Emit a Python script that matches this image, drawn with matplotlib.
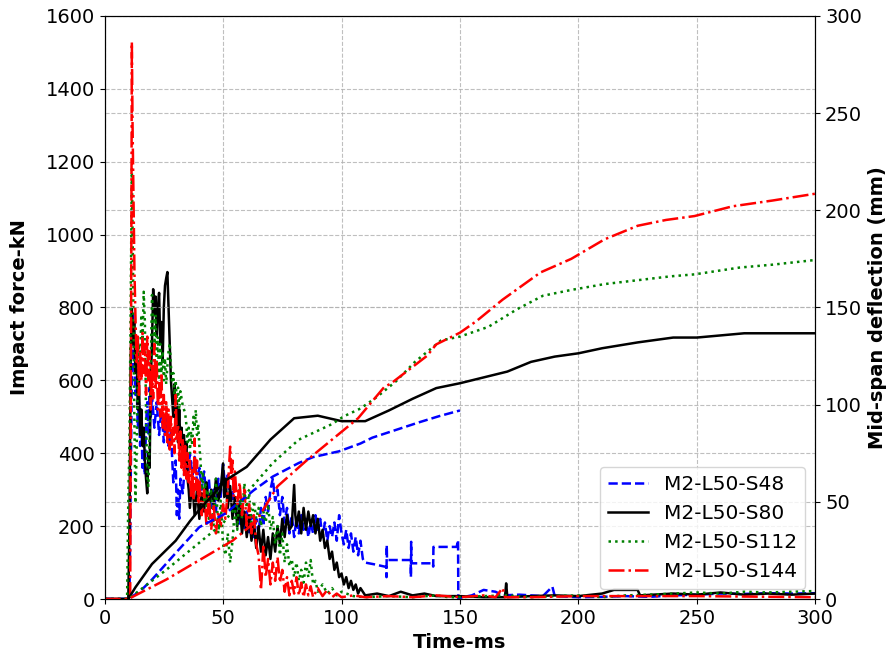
import matplotlib
matplotlib.use("Agg")
import matplotlib.pyplot as plt

# impact force (kN) vs time (ms)
t_s48 = [0, 10.5, 11, 11.5, 12, 12.5, 13, 13.5, 14, 14.5, 15, 15.5, 16, 16.5, 17, 17.5, 18, 18.5, 19, 19.5,
         20, 21, 22, 23, 24, 25, 26, 27, 28, 29, 30, 30.5, 31, 31.5, 32, 33, 34, 35, 36, 37, 38, 39,
         40, 41, 42, 43, 44, 45, 46, 47, 48, 49, 50, 51, 52, 53, 54, 55, 56, 57, 58, 59,
         60, 61, 62, 63, 64, 65, 66, 67, 68, 69, 70, 71, 72, 73, 74, 75, 76, 77, 78, 79,
         80, 81, 82, 83, 84, 85, 86, 87, 88, 89, 90, 91, 92, 93, 94, 95, 96, 97, 98, 99,
         100, 101, 102, 103, 104, 105, 106, 107, 108, 109, 110, 114, 118.9, 119, 119.1, 119.2,
         129.2, 129.3, 129.4, 129.5, 138.6, 138.7, 138.8, 148.6, 149.2, 149.3, 151, 155, 160, 165, 168,
         175, 185, 189, 190, 200, 210, 220, 230, 240, 250, 260, 270, 280, 290, 300]
f_s48 = [0, 0, 300, 620, 780, 650, 560, 600, 470, 540, 420, 500, 360, 430, 340, 480, 540, 450, 580, 500,
         560, 470, 540, 450, 520, 430, 500, 420, 460, 320, 380, 230, 300, 220, 330, 290, 380, 330, 400, 340, 390, 320,
         360, 300, 350, 280, 330, 250, 300, 240, 330, 280, 370, 300, 340, 260, 300, 230, 270, 200, 250, 190,
         240, 180, 230, 170, 220, 180, 250, 200, 280, 240, 300, 330, 270, 300, 230, 280, 210, 250, 180, 230,
         170, 220, 180, 230, 190, 220, 170, 210, 180, 230, 190, 220, 170, 210, 160, 200, 170, 210, 160, 230,
         180, 150, 190, 140, 180, 130, 170, 120, 160, 110, 100, 95, 88, 60, 148, 107,
         107, 60, 157, 98, 98, 89, 143, 143, 162, 0, 5, 10, 25, 20, 10,
         12, 8, 34, 8, 5, 6, 8, 6, 10, 12, 15, 14, 16, 15, 16]

t_s80 = [0, 10, 10.5, 11, 11.5, 12, 12.5, 13, 13.5, 14, 14.5, 15, 15.5, 16, 16.5, 17, 17.5, 18, 18.5, 19, 19.5,
         20, 20.5, 21, 21.5, 22, 22.5, 23, 23.5, 24, 24.5, 25, 25.5, 26, 26.5, 27, 27.5, 28, 28.5, 29, 29.5,
         30, 30.5, 31, 31.5, 32, 32.5, 33, 33.5, 34, 34.5, 35, 35.5, 36, 37, 38, 39,
         40, 41, 42, 43, 44, 45, 46, 47, 48, 49, 50, 50.5, 51, 52, 53, 54, 55, 56, 57, 58, 59,
         60, 61, 62, 63, 64, 65, 66, 67, 68, 69, 70, 71, 72, 73, 74, 75, 76, 77, 78, 79,
         80, 80.5, 81, 82, 83, 84, 85, 86, 87, 88, 89, 90, 91, 92, 93, 94, 95, 96, 97, 98, 99,
         100, 101, 102, 103, 104, 105, 106, 107, 108, 110, 115, 120, 125, 130, 135, 140, 150, 160,
         169, 169.5, 170, 180, 190, 200, 210, 215, 225, 226, 240, 250, 260, 270, 280, 290, 300]
f_s80 = [0, 0, 200, 650, 800, 700, 760, 620, 690, 520, 600, 450, 520, 420, 470, 380, 330, 290, 400, 360, 600,
         700, 850, 780, 830, 720, 800, 840, 700, 760, 650, 800, 860, 880, 897, 800, 700, 600, 550, 500, 590,
         480, 540, 430, 520, 420, 470, 400, 450, 380, 430, 330, 300, 250, 320, 230, 300,
         220, 290, 240, 320, 250, 300, 260, 330, 270, 300, 372, 280, 330, 250, 310, 220, 280, 200, 260, 180, 240,
         170, 230, 160, 210, 140, 200, 130, 190, 120, 170, 110, 180, 130, 200, 150, 220, 170, 230, 190, 200,
         313, 230, 200, 240, 180, 250, 190, 240, 200, 230, 180, 220, 160, 190, 140, 160, 110, 130, 80, 100, 60,
         70, 40, 60, 30, 50, 25, 40, 15, 30, 10, 15, 8, 20, 10, 15, 8, 8, 5,
         5, 43, 5, 8, 10, 8, 15, 25, 25, 10, 15, 12, 18, 12, 15, 12, 15]

t_s112 = [0, 9.5, 10, 10.5, 11, 11.5, 12, 12.5, 13, 13.5, 14, 14.5, 15, 15.5, 16, 16.5, 17, 17.5, 18, 18.5, 19, 19.5,
          20, 20.5, 21, 21.5, 22, 22.5, 23, 23.5, 24, 24.5, 25, 25.5, 26, 26.5, 27, 27.5, 28, 28.5, 29, 29.5,
          30, 30.5, 31, 31.5, 32, 33, 34, 34.5, 35, 35.5, 36, 36.5, 37, 37.5, 38, 38.5, 39, 39.5,
          40, 40.5, 41, 41.5, 42, 42.5, 43, 43.5, 44, 45, 46, 47, 48, 49, 50, 51, 52, 53, 54, 55, 56, 57, 58, 59,
          60, 61, 62, 63, 64, 65, 66, 67, 68, 69, 70, 71, 72, 73, 74, 75, 76, 77, 78, 79,
          80, 81, 82, 83, 84, 85, 86, 87, 88, 89, 90, 92, 94, 96, 98, 100, 105, 110, 120, 130, 140, 145,
          150, 160, 170, 180, 190, 200, 210, 220, 230, 240, 250, 260, 270, 280, 290, 300]
f_s112 = [0, 0, 270, 430, 800, 1180, 900, 527, 263, 400, 600, 700, 650, 780, 700, 843, 760, 500, 330, 310, 450, 650,
          834, 760, 700, 780, 650, 720, 600, 700, 620, 680, 600, 660, 590, 640, 680, 702, 640, 592, 620, 560,
          600, 540, 580, 520, 570, 530, 510, 480, 430, 470, 400, 460, 420, 500, 470, 519, 450, 480,
          420, 380, 300, 350, 260, 320, 230, 300, 220, 300, 200, 330, 180, 270, 150, 120, 180, 100, 160, 250, 190, 300, 220, 318,
          250, 290, 210, 270, 220, 250, 200, 240, 210, 260, 190, 225, 150, 200, 120, 180, 100, 150, 90, 110,
          60, 100, 50, 80, 45, 100, 60, 107, 40, 50, 20, 40, 15, 30, 10, 20, 8, 5, 8, 5, 10, 5,
          5, 8, 10, 5, 8, 10, 5, 10, 12, 15, 18, 15, 20, 18, 20, 22]

t_s144 = [0, 10.8, 11, 11.3, 11.5, 11.8, 12, 12.3, 12.6, 13, 13.5, 14, 14.5, 15, 15.5, 16, 16.5, 17, 17.5, 18, 18.5, 19, 19.5,
          20, 20.5, 21, 21.5, 22, 22.5, 23, 23.5, 24, 24.5, 25, 25.5, 26, 26.5, 27, 27.5, 28, 28.5, 29, 29.5,
          30, 30.5, 31, 31.5, 32, 32.5, 33, 33.5, 34, 34.5, 35, 35.5, 36, 36.5, 37, 37.5, 38, 38.5, 39, 39.5,
          40, 41, 42, 43, 44, 45, 46, 47, 48, 49, 50, 51, 52, 53, 53.5, 54, 54.5, 55, 56, 57, 58, 59,
          60, 61, 62, 63, 64, 65, 66, 66.5, 67, 68, 69, 70, 71, 72, 73, 74, 75, 76, 77, 78, 79,
          80, 81, 82, 83, 84, 85, 86, 87, 88, 90, 92, 94, 96, 98, 100, 105, 110, 120, 130, 140,
          150, 160, 165, 168, 169, 180, 200, 250, 300]
f_s144 = [0, 0, 400, 1000, 1528, 1300, 1200, 1050, 900, 780, 650, 720, 560, 680, 600, 730, 620, 700, 560, 720, 600, 680, 520,
          640, 550, 700, 580, 650, 520, 600, 500, 620, 470, 560, 450, 540, 430, 520, 410, 500, 420, 470, 400,
          560, 440, 480, 380, 460, 360, 440, 340, 420, 330, 400, 320, 380, 280, 360, 270, 440, 300, 380, 260,
          330, 230, 300, 200, 280, 190, 260, 180, 240, 200, 260, 220, 300, 418, 330, 380, 280, 350, 260, 320, 230, 300,
          200, 260, 180, 230, 150, 120, 25, 80, 150, 60, 110, 40, 100, 50, 115, 45, 80, 20, 60, 10, 50,
          15, 60, 10, 45, 5, 40, 10, 35, 5, 30, 8, 25, 5, 15, 5, 10, 5, 8, 5, 10,
          5, 10, 5, 30, 5, 5, 8, 8, 5]

# mid-span deflection (mm) vs time (ms)
td_s48 = [0, 10, 15, 20, 31, 40, 51, 63, 71, 82, 88, 99, 108, 113, 123, 133, 141, 150]
d_s48 = [0, 0, 4, 10, 25, 37, 44, 56, 63, 70, 73, 76, 80, 83, 87, 91, 94, 97]

td_s80 = [0, 10, 13, 20, 30, 36, 40, 46, 51, 60, 70, 80, 90, 100, 110, 120, 130, 140, 150,
          160, 170, 180, 190, 200, 210, 225, 240, 250, 270, 300]
d_s80 = [0, 0, 6, 18, 30, 40, 46, 54, 61, 68, 82, 93, 94.3, 91.5, 91.5, 97, 103, 108.5, 111,
         114, 117, 122, 124.7, 126.4, 129, 132, 134.5, 134.5, 136.7, 136.7]

td_s112 = [0, 10, 26, 40, 50, 61, 71, 82, 96, 101, 108, 115, 123, 131, 142, 150, 162, 174, 185,
           197, 211, 225, 239, 249, 268, 282, 300]
d_s112 = [0, 0, 15, 29, 39, 56, 70, 82, 90, 94, 98, 104, 112, 122, 133, 135, 140, 149, 156,
          159, 162, 164, 166, 167, 170.5, 172, 174.4]

td_s144 = [0, 10, 26, 40, 54, 64, 73, 85, 96, 104, 107, 118, 121, 136, 140, 150, 157, 168, 184,
           197, 211, 225, 237, 249, 265, 282, 300]
d_s144 = [0, 0, 10, 20, 30, 40, 58, 71, 82, 90, 93, 109, 111, 125, 131, 137, 143, 154, 168,
          175, 185, 192, 195, 197, 202, 205, 208.5]

labels = ['M2-L50-S48', 'M2-L50-S80', 'M2-L50-S112', 'M2-L50-S144']

fig, ax1 = plt.subplots(figsize=(8.94, 6.59), dpi=100)
fig.subplots_adjust(left=0.117, right=0.912, bottom=0.091, top=0.976)

l1, = ax1.plot(t_s48, f_s48, 'b--', lw=1.8, label=labels[0])
l2, = ax1.plot(t_s80, f_s80, 'k-', lw=1.8, label=labels[1])
l3, = ax1.plot(t_s112, f_s112, 'g:', lw=1.8, label=labels[2])
l4, = ax1.plot(t_s144, f_s144, 'r-.', lw=1.8, label=labels[3])
ax1.set_xlim(0, 300)
ax1.set_ylim(0, 1600)
ax1.set_xlabel('Time-ms', fontsize=14, fontweight='bold')
ax1.set_ylabel('Impact force-kN', fontsize=14, fontweight='bold', labelpad=12)
ax1.tick_params(labelsize=14)
ax1.grid(True, linestyle='--', color='#b0b0b0', alpha=0.8)

ax2 = ax1.twinx()
ax2.plot(td_s48, d_s48, 'b--', lw=1.8)
ax2.plot(td_s80, d_s80, 'k-', lw=1.8)
ax2.plot(td_s112, d_s112, 'g:', lw=1.8)
ax2.plot(td_s144, d_s144, 'r-.', lw=1.8)
ax2.set_ylim(0, 300)
ax2.set_ylabel('Mid-span deflection (mm)', fontsize=14, fontweight='bold')
ax2.tick_params(labelsize=14)
ax2.grid(True, axis='y', linestyle='--', color='#b0b0b0', alpha=0.8)

ax2.legend(handles=[l1, l2, l3, l4], loc='lower right', fontsize=14.5)

fig.savefig('out.png', dpi=100)
